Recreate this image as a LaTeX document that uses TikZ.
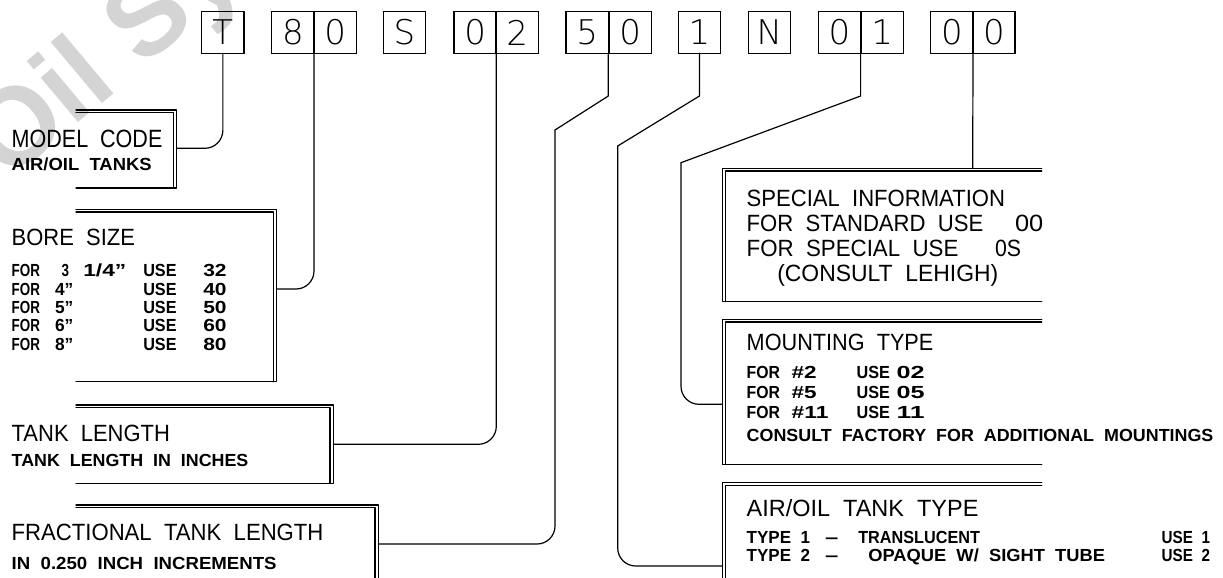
\documentclass[tikz,border=0pt]{standalone}
\usepackage{fontspec}
\usepackage{graphicx}
\setmainfont{Liberation Sans}[WordSpace=2]
\newfontfamily\wmfont{Liberation Sans}
\IfFontExistsTF{DejaVu Sans ExtraLight}
  {\newfontfamily\digitfont{DejaVu Sans ExtraLight}\def\digsize{34}}
  {\newfontfamily\digitfont{Liberation Sans}\def\digsize{35}}
\newcommand\tb[5]{\node[txt,font=\fontsize{23.5}{24}\selectfont] (#1) at (#2,#3) {\resizebox{#4pt}{\height}{#5}};}
\newcommand\ts[5]{\node[txt,font=\bfseries\fontsize{17.5}{18}\selectfont] (#1) at (#2,#3) {\resizebox{#4pt}{\height}{#5}};}
\newcommand\lbox[4]{%
  \draw[ln] (#1,#2) -- (#3,#2) -- (#3,#4) -- (#1,#4);
  \draw[ln] (#1,#2+2.7) -- (#3-3.3,#2+2.7) -- (#3-3.3,#4);}
\newcommand\rbox[4]{%
  \draw[ln] (#3,#2) -- (#1,#2) -- (#1,#4) -- (#3,#4);
  \draw[ln] (#3,#2+2.7) -- (#1+3,#2+2.7) -- (#1+3,#4);}
\tikzset{
  ln/.style={line width=1.2pt, line cap=round, line join=round},
  cell/.style={draw, line width=1.2pt, minimum width=42.3pt, minimum height=41.6pt,
    inner sep=0pt, outer sep=0pt, anchor=north west, font=\digitfont\fontsize{\digsize}{\digsize}\selectfont},
  txt/.style={anchor=base west, inner sep=0pt, outer sep=0pt},
  conn/.style={ln, rounded corners=18pt},
}
\begin{document}
\begin{tikzpicture}[x=1pt,y=-1pt]
\useasboundingbox (0,0) rectangle (1223,578);
\fill[white] (0,0) rectangle (1223,578);
\clip (0,0) rectangle (1223,578);

% watermark
\node[rotate=40, font=\wmfont\bfseries\fontsize{110}{110}\selectfont, text=black!17,
  anchor=base west, inner sep=0pt] (wm) at (7,183) {Oil Sy};

% code cells
\node[cell] (cT) at (201.7,11.7) {T};
\node[cell] (c8) at (271.7,11.7) {8};
\node[cell] (c80) at (314,11.7) {0};
\node[cell] (cS) at (383.3,11.7) {S};
\node[cell] (c0) at (454,11.7) {0};
\node[cell] (c02) at (496,11.7) {2};
\node[cell] (c5) at (566,11.7) {5};
\node[cell] (c50) at (609,11.7) {0};
\node[cell] (c1) at (678.3,11.7) {1};
\node[cell] (cN) at (748.3,11.7) {N};
\node[cell] (cA) at (818.3,11.7) {0};
\node[cell] (cA1) at (861,11.7) {1};
\node[cell] (cB) at (930.7,11.7) {0};
\node[cell] (cB0) at (972.7,11.7) {0};

% anchor coordinates of boxes
\coordinate (mc-e) at (176.7,148.3);
\coordinate (bs-e) at (276.7,289);
\coordinate (tl-e) at (333.3,444.3);
\coordinate (fr-e) at (378.3,544);
\coordinate (si-n) at (972.7,168.3);
\coordinate (mt-w) at (722.3,404.3);
\coordinate (at-w) at (722.3,566);
\coordinate (k50) at (555,130);
\coordinate (k1) at (617.7,146);
\coordinate (k01) at (681,162.7);

% boxes
\lbox{76}{110}{176.7}{188}
\lbox{76}{209.3}{276.7}{381.7}
\lbox{76}{405}{333.3}{483.3}
\lbox{76}{505}{378.3}{600}
\rbox{722.3}{168.3}{1041.7}{301.7}
\rbox{722.3}{319.3}{1041.7}{464.3}
\rbox{722.3}{482.7}{1041.7}{600}

% connectors
\draw[conn] (cT.south) |- (mc-e);
\draw[conn] (c8.south east) |- (bs-e);
\draw[conn] (c0.south east) |- (tl-e);
\draw[ln] (c5.south east) -- ++(0,42.7) -- (k50);
\draw[conn] (k50) |- (fr-e);
\draw[ln] (c1.south) -- ++(0,42.7) -- (k1);
\draw[conn] (k1) |- (at-w);
\draw[ln] (cA.south east) -- ++(0,42.7) -- (k01);
\draw[conn] (k01) |- (mt-w);
\draw[ln] (cB.south east) -- (si-n);

% left texts
\node[txt,font=\fontsize{25}{25}\selectfont] (mc1) at (11.7,147) {\resizebox{150.7pt}{\height}{MODEL CODE}};
\ts{mc2}{11.7}{170}{140}{AIR/OIL TANKS}
\tb{bs1}{11.7}{245}{123.3}{BORE SIZE}
\foreach \yy/\nn [count=\i] in {276/32, 295/40, 313.3/50, 331.7/60, 350.7/80}{
  \ts{bsf\i}{11.7}{\yy}{28.3}{FOR}
  \ts{bsu\i}{143.3}{\yy}{33.3}{USE}
  \ts{bsn\i}{203.3}{\yy}{23.3}{\nn}
}
\ts{bss1}{61.7}{276}{7.5}{3}
\ts{bsq1}{83.3}{276}{43}{1/4”}
\ts{bss2}{55}{295}{18.3}{4”}
\ts{bss3}{55}{313.3}{18.3}{5”}
\ts{bss4}{55}{331.7}{18.3}{6”}
\ts{bss5}{55}{350.7}{18.3}{8”}
\tb{tl1}{11.7}{441.7}{158.3}{TANK LENGTH}
\ts{tl2}{11.7}{466}{236.7}{TANK LENGTH IN INCHES}
\tb{fr1}{11.7}{540}{311.7}{FRACTIONAL TANK LENGTH}
\ts{fr2}{11.7}{569.3}{265}{IN 0.250 INCH INCREMENTS}

% right texts
\tb{si1}{746.7}{206}{258.3}{SPECIAL INFORMATION}
\tb{si2}{746.7}{231.7}{236.7}{FOR STANDARD USE}
\tb{si2b}{1015}{231.7}{28.3}{00}
\tb{si3}{746.7}{256.7}{211.7}{FOR SPECIAL USE}
\tb{si3b}{995}{256.7}{26}{0S}
\tb{si4}{777.3}{281.7}{221}{(CONSULT LEHIGH)}
\tb{mt1}{746.7}{350.7}{186.7}{MOUNTING TYPE}
\foreach \yy/\hh/\hw/\nn [count=\i] in {378.3/\#2/25/02, 398.3/\#5/25/05, 418.3/\#11/36.7/11}{
  \ts{mtf\i}{746.7}{\yy}{33.3}{FOR}
  \ts{mth\i}{791.7}{\yy}{\hw}{\hh}
  \ts{mtu\i}{856.7}{\yy}{33.3}{USE}
  \ts{mtn\i}{896.7}{\yy}{28}{\nn}
}
\ts{mt5}{746.7}{441.7}{466.7}{CONSULT FACTORY FOR ADDITIONAL MOUNTINGS}
\tb{at1}{746.7}{516.7}{231.7}{AIR/OIL TANK TYPE}
\ts{at2a}{746.7}{543.3}{63.3}{TYPE 1}
\ts{at2b}{825}{543.3}{13.3}{–}
\ts{at2c}{858.3}{543.3}{121.7}{TRANSLUCENT}
\ts{at2d}{1161.7}{543.3}{48.3}{USE 1}
\ts{at3a}{746.7}{561.7}{63.3}{TYPE 2}
\ts{at3b}{825}{561.7}{13.3}{–}
\ts{at3c}{868.3}{561.7}{236.7}{OPAQUE W/ SIGHT TUBE}
\ts{at3d}{1161.7}{561.7}{48.3}{USE 2}
\end{tikzpicture}
\end{document}
